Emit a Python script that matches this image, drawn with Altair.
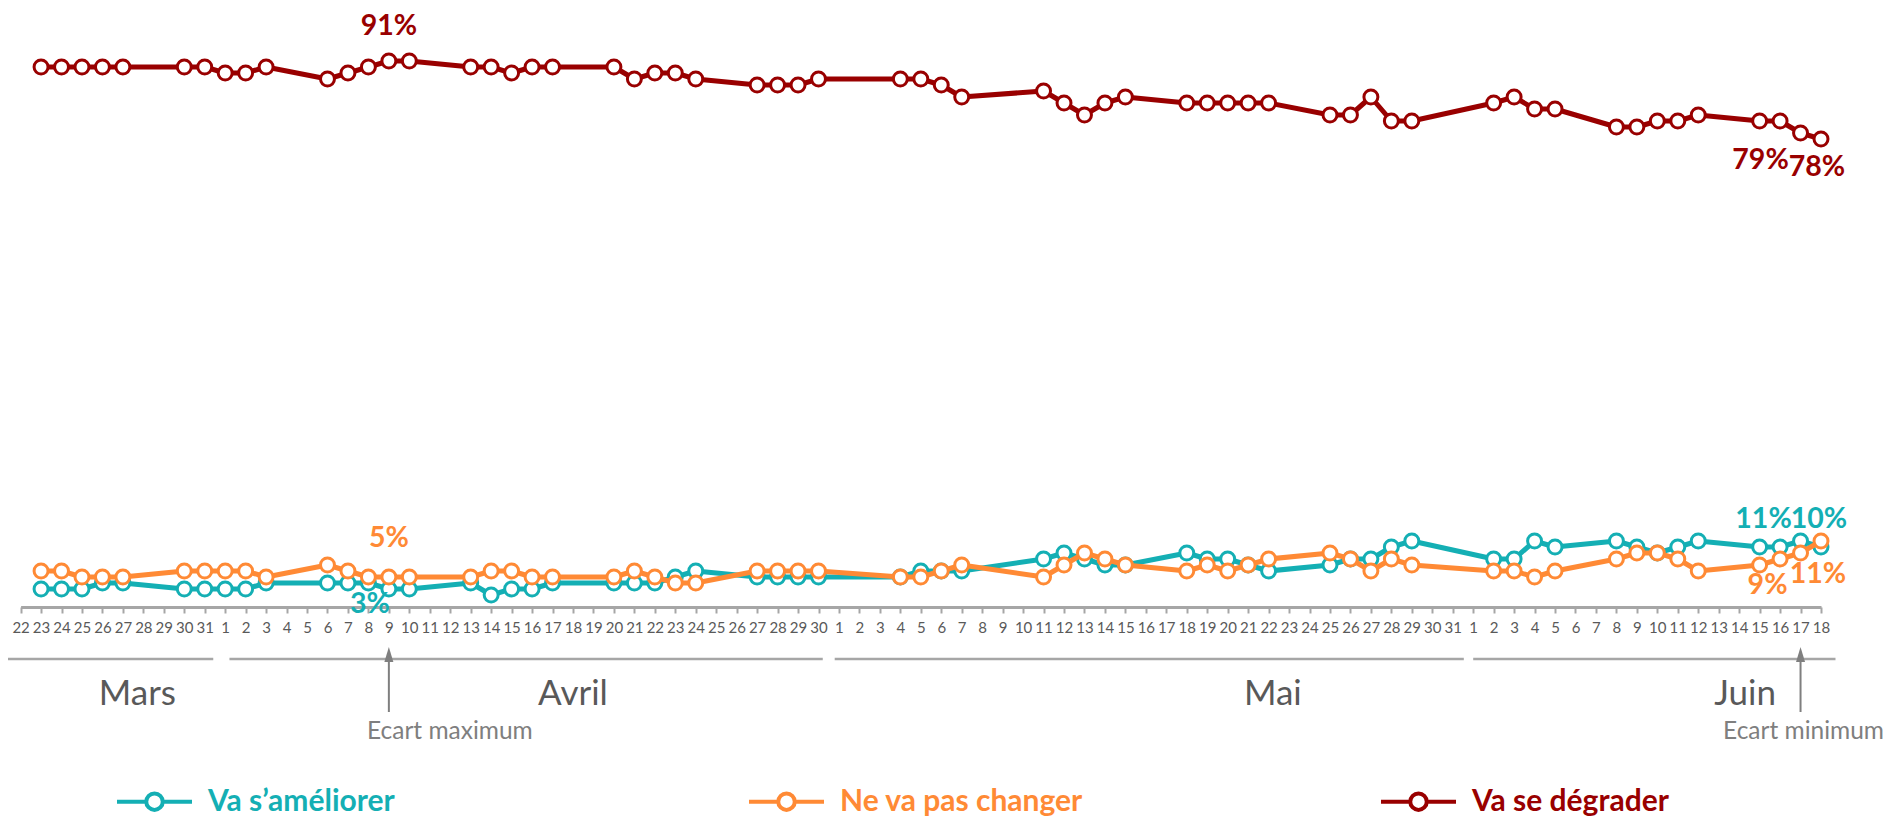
import altair as alt
import pandas as pd

# ---------------- data ----------------
dates = [
    "2020-03-23", "2020-03-24", "2020-03-25", "2020-03-26", "2020-03-27",
    "2020-03-30", "2020-03-31", "2020-04-01", "2020-04-02", "2020-04-03",
    "2020-04-06", "2020-04-07", "2020-04-08", "2020-04-09", "2020-04-10",
    "2020-04-13", "2020-04-14", "2020-04-15", "2020-04-16", "2020-04-17",
    "2020-04-20", "2020-04-21", "2020-04-22", "2020-04-23", "2020-04-24",
    "2020-04-27", "2020-04-28", "2020-04-29", "2020-04-30",
    "2020-05-04", "2020-05-05", "2020-05-06", "2020-05-07",
    "2020-05-11", "2020-05-12", "2020-05-13", "2020-05-14", "2020-05-15",
    "2020-05-18", "2020-05-19", "2020-05-20", "2020-05-21", "2020-05-22",
    "2020-05-25", "2020-05-26", "2020-05-27", "2020-05-28", "2020-05-29",
    "2020-06-02", "2020-06-03", "2020-06-04", "2020-06-05",
    "2020-06-08", "2020-06-09", "2020-06-10", "2020-06-11", "2020-06-12",
    "2020-06-15", "2020-06-16", "2020-06-17", "2020-06-18",
]
ameliorer = [3, 3, 3, 4, 4, 3, 3, 3, 3, 4,
             4, 4, 4, 3, 3, 4, 2, 3, 3, 4,
             4, 4, 4, 5, 6, 5, 5, 5, 5,
             5, 6, 6, 6, 8, 9, 8, 7, 7,
             9, 8, 8, 7, 6, 7, 8, 8, 10, 11,
             8, 8, 11, 10, 11, 10, 9, 10, 11,
             10, 10, 11, 10]
pas_changer = [6, 6, 5, 5, 5, 6, 6, 6, 6, 5,
               7, 6, 5, 5, 5, 5, 6, 6, 5, 5,
               5, 6, 5, 4, 4, 6, 6, 6, 6,
               5, 5, 6, 7, 5, 7, 9, 8, 7,
               6, 7, 6, 7, 8, 9, 8, 6, 8, 7,
               6, 6, 5, 6, 8, 9, 9, 8, 6,
               7, 8, 9, 11]
degrader = [90, 90, 90, 90, 90, 90, 90, 89, 89, 90,
            88, 89, 90, 91, 91, 90, 90, 89, 90, 90,
            90, 88, 89, 89, 88, 87, 87, 87, 88,
            88, 88, 87, 85, 86, 84, 82, 84, 85,
            84, 84, 84, 84, 84, 82, 82, 85, 81, 81,
            84, 85, 83, 83, 80, 80, 81, 81, 82,
            81, 81, 79, 78]

series_names = ["Va s\u2019améliorer", "Ne va pas changer", "Va se dégrader"]
series_colors = ["#14AFB4", "#FF8A35", "#990000"]

months = ["Mars", "Avril", "Mai", "Juin"]
month_label_at = ["2020-03-27T17:00:00Z", "2020-04-18T00:00:00Z",
                  "2020-05-22T05:00:00Z", "2020-06-14T07:00:00Z"]
bracket_from = ["2020-03-21T04:00:00Z", "2020-04-01T05:00:00Z",
                "2020-04-30T19:00:00Z", "2020-06-01T00:00:00Z"]
bracket_to = ["2020-03-31T10:00:00Z", "2020-04-30T05:00:00Z",
              "2020-05-31T13:00:00Z", "2020-06-18T17:00:00Z"]

arrow_dates = ["2020-04-09", "2020-06-17"]
arrow_texts = ["Ecart maximum", "Ecart minimum"]

axis_start = "2020-03-22"
axis_end = "2020-06-18"

# ---------------- tables ----------------
rows = []
for name, vals in zip(series_names, [ameliorer, pas_changer, degrader]):
    for d, v in zip(dates, vals):
        rows.append({"date": d, "key": d, "series": name, "value": v})
df = pd.DataFrame(rows)

month_df = pd.DataFrame({"month": months, "label_at": month_label_at,
                         "from": bracket_from, "to": bracket_to})
arrow_df = pd.DataFrame({"date": arrow_dates, "key": arrow_dates, "text": arrow_texts})

# ---------------- scales ----------------
PLOT_H = 599
tick_values = [alt.DateTime(year=t.year, month=t.month, date=t.day, utc=True)
               for t in pd.date_range(axis_start, axis_end, freq="D")]
s, e = pd.Timestamp(axis_start), pd.Timestamp(axis_end)
xscale = alt.Scale(type="utc",
                   domain=[alt.DateTime(year=s.year, month=s.month, date=s.day, utc=True),
                           alt.DateTime(year=e.year, month=e.month, date=e.day, utc=True)],
                   range=[12.6, 1813], nice=False)
yscale = alt.Scale(domain=[0, PLOT_H / 6.0], nice=False, zero=False)

x_axis = alt.Axis(values=tick_values, format="%-d", labelOverlap=False,
                  labelFlush=False, labelBound=False, grid=False,
                  labelSeparation=0,
                  domainColor="#A6A6A6", domainWidth=3,
                  tickColor="#A6A6A6", tickWidth=2, tickSize=6,
                  labelColor="#595959", labelFont="Lato",
                  labelFontSize=15, labelPadding=7, labelAngle=0)


def X(field):
    return alt.X(field, scale=xscale, title=None, axis=x_axis)


y_main = alt.Y("value:Q", scale=yscale, axis=None)

legend_symbol = ("M-1,0L-0.22,0M0.22,0L1,0M0.22,0A0.22,0.22,0,1,1,-0.22,0"
                 "A0.22,0.22,0,1,1,0.22,0Z")
label_color_expr = ("datum.value == '%s' ? '%s' : datum.value == '%s' ? '%s' : '%s'"
                    % (series_names[0], series_colors[0], series_names[1],
                       series_colors[1], series_colors[2]))
color_enc = alt.Color(
    "series:N",
    scale=alt.Scale(domain=series_names, range=series_colors),
    legend=alt.Legend(title=None, orient="none", legendX=107, legendY=754,
                      direction="horizontal", columns=3, gridAlign="all",
                      columnPadding=290, padding=0,
                      symbolType=legend_symbol, symbolSize=5625,
                      symbolStrokeWidth=4, symbolFillColor="white",
                      labelFont="Lato", labelFontSize=30, labelFontWeight="bold",
                      labelColor={"expr": label_color_expr}, labelOffset=14,
                      labelLimit=400),
)

base = alt.Chart(df)
layers = []
for name in series_names:
    sub = base.transform_filter(alt.datum.series == name)
    layers.append(sub.mark_line(strokeWidth=5, strokeJoin="round")
                  .encode(x=X("date:T"), y=y_main, color=color_enc))
    layers.append(sub.mark_point(shape="circle", filled=False, fill="white",
                                 size=195, strokeWidth=3, opacity=1)
                  .encode(x=X("date:T"), y=y_main, color=color_enc))

# value labels (series, day, dx, dy)
label_specs = [
    (series_names[2], "2020-04-09", 0, -35),
    (series_names[1], "2020-04-09", 0, -39),
    (series_names[0], "2020-04-09", -19, 15),
    (series_names[0], "2020-06-17", -37, -22),
    (series_names[0], "2020-06-18", -2, -28),
    (series_names[1], "2020-06-17", -33, 32),
    (series_names[1], "2020-06-18", -3, 33),
    (series_names[2], "2020-06-17", -40, 27),
    (series_names[2], "2020-06-18", -4, 28),
]
for name, day, dx, dy in label_specs:
    col = series_colors[series_names.index(name)]
    layers.append(
        base.transform_filter((alt.datum.series == name) & (alt.datum.key == day))
        .transform_calculate(lab="datum.value + '%'")
        .mark_text(font="Lato", fontSize=28.5, fontWeight="bold", color=col,
                   align="center", baseline="middle", dx=dx, dy=dy)
        .encode(x=X("date:T"), y=y_main, text="lab:N")
    )

# month brackets and names
mb = alt.Chart(month_df)
layers.append(mb.mark_rule(color="#A6A6A6", strokeWidth=2.5)
              .encode(x=X("from:T"), x2="to:T", y=alt.value(651)))
layers.append(mb.mark_text(font="Lato", fontSize=35, color="#595959",
                           align="center", baseline="middle")
              .encode(x=X("label_at:T"), y=alt.value(686), text="month:N"))

# arrows
ab = alt.Chart(arrow_df)
layers.append(ab.mark_rule(color="#7F7F7F", strokeWidth=2)
              .encode(x=X("date:T"), y=alt.value(645), y2=alt.value(704)))
layers.append(ab.mark_point(shape="M0,-1L0.6,1L-0.6,1Z", filled=True,
                            color="#7F7F7F", size=225, opacity=1)
              .encode(x=X("date:T"), y=alt.value(646.5)))
for txt, dx in [(arrow_texts[0], 61), (arrow_texts[1], 3)]:
    layers.append(ab.transform_filter(alt.datum.text == txt)
                  .mark_text(font="Lato", fontSize=24.5, color="#7F7F7F",
                             align="center", baseline="middle", dx=dx)
                  .encode(x=X("date:T"), y=alt.value(724), text="text:N"))

chart = alt.layer(*layers).properties(
    width=1880, height=PLOT_H,
    autosize=alt.AutoSizeParams(type="none"),
    padding={"left": 0, "right": 0, "top": 0, "bottom": 230},
).configure_view(stroke=None)

chart.save("out.html", embed_options={"renderer": "svg", "actions": False})
